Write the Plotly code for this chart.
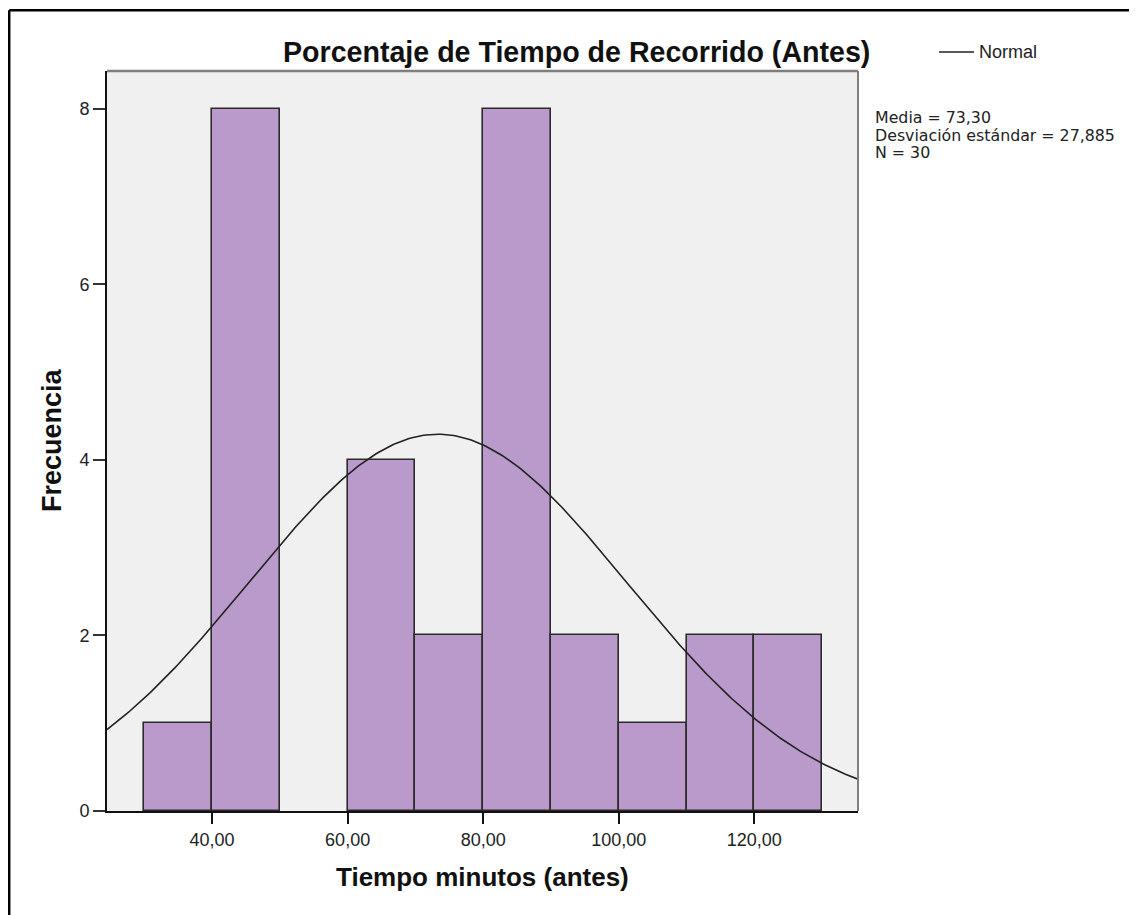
import numpy as np
import plotly.graph_objects as go

# ---- data ----
bin_starts = [30, 40, 50, 60, 70, 80, 90, 100, 110, 120]
counts = [1, 8, 0, 4, 2, 8, 2, 1, 2, 2]
bin_width = 10
media = 73.30
desv = 27.885
n_total = 30
x_tickvals = [40, 60, 80, 100, 120]
x_ticktext = ["40,00", "60,00", "80,00", "100,00", "120,00"]
y_tickvals = [0, 2, 4, 6, 8]
y_ticktext = ["0", "2", "4", "6", "8"]
title_text = "Porcentaje de Tiempo de Recorrido (Antes)"
x_title = "Tiempo minutos (antes)"
y_title = "Frecuencia"
stats_lines = ["Media = 73,30", "Desviación estándar = 27,885", "N = 30"]

X_RANGE = [24.5, 135.3]
Y_RANGE = [0, 8.43]

# page geometry (pixels); the html body has an 8px margin
OFF = 8
W, H = 1137 - OFF, 915 - OFF
L, R, T, B = 107, 858, 71, 811   # plot area in page pixels


def px(xp):
    return (xp - L) / (R - L)


def py(yp):
    return (B - yp) / (B - T)


centers = [s + bin_width / 2 for s in bin_starts]
outline_w = [1.6 if c > 0 else 0 for c in counts]

fig = go.Figure()
fig.add_trace(go.Bar(
    x=centers, y=counts, width=bin_width,
    marker=dict(color="#B99ACA", line=dict(color="#2b2b2b", width=outline_w)),
    showlegend=False, hoverinfo="x+y",
))

# fitted normal curve from the stated mean, sd and N
xc = np.linspace(X_RANGE[0], X_RANGE[1], 300)
yc = n_total * bin_width / (desv * np.sqrt(2 * np.pi)) * np.exp(-0.5 * ((xc - media) / desv) ** 2)
fig.add_trace(go.Scatter(x=xc, y=yc, mode="lines",
                         line=dict(color="#222222", width=1.6),
                         showlegend=False, hoverinfo="skip"))

fig.update_layout(
    width=W, height=H,
    margin=dict(l=L - OFF, r=1137 - R, t=T - OFF, b=915 - B, pad=0),
    paper_bgcolor="white", plot_bgcolor="#F0F0F0",
    bargap=0, showlegend=False,
    font=dict(family="Liberation Sans, Arial, sans-serif", color="#222222"),
)
fig.update_xaxes(
    range=X_RANGE, tickvals=x_tickvals, ticktext=x_ticktext,
    showgrid=False, zeroline=False, showline=True, linecolor="#111111", linewidth=2,
    ticks="outside", ticklen=11, tickwidth=2, tickcolor="#111111",
    tickfont=dict(size=18, color="#222222"),
)
fig.update_yaxes(
    range=Y_RANGE, tickvals=y_tickvals, ticktext=y_ticktext,
    showgrid=False, zeroline=False, showline=True, linecolor="#111111", linewidth=2,
    ticks="outside", ticklen=12, tickwidth=2, tickcolor="#333333",
    tickfont=dict(size=18, color="#222222"),
)

shapes = [
    # gray top/right frame of plot area
    dict(type="line", xref="paper", yref="paper", x0=0, x1=1, y0=1, y1=1,
         line=dict(color="#7f7f7f", width=2.5)),
    dict(type="line", xref="paper", yref="paper", x0=1, x1=1, y0=0, y1=1,
         line=dict(color="#7f7f7f", width=2)),
    # outer image frame (top and left)
    dict(type="line", xref="paper", yref="paper", x0=px(9.2), x1=px(1140), y0=py(10.3), y1=py(10.3),
         line=dict(color="#000000", width=2.5)),
    dict(type="line", xref="paper", yref="paper", x0=px(9.2), x1=px(9.2), y0=py(10.3), y1=py(920),
         line=dict(color="#000000", width=2.5)),
    # legend line sample
    dict(type="line", xref="paper", yref="paper", x0=px(939), x1=px(974), y0=py(52), y1=py(52),
         line=dict(color="#222222", width=1.6)),
]
fig.update_layout(shapes=shapes)

ann = [
    dict(text="<b>" + title_text + "</b>", x=px(576.5), y=py(52), xanchor="center", yanchor="middle",
         font=dict(size=28.6, color="#111111", family="Liberation Sans, Arial, sans-serif")),
    dict(text="<b>" + x_title + "</b>", x=px(482), y=py(877), xanchor="center", yanchor="middle",
         font=dict(size=26, color="#111111", family="Liberation Sans, Arial, sans-serif")),
    dict(text="<b>" + y_title + "</b>", x=px(52), y=py(440), xanchor="center", yanchor="middle",
         textangle=-90,
         font=dict(size=27, color="#111111", family="Liberation Sans, Arial, sans-serif")),
    dict(text="Normal", x=px(977), y=py(52), xanchor="left", yanchor="middle",
         font=dict(size=18, color="#222222", family="Liberation Sans, Arial, sans-serif")),
]
for line, yy in zip(stats_lines, [117, 135, 152.5]):
    ann.append(dict(text=line, x=px(873), y=py(yy), xanchor="left", yanchor="middle",
                    font=dict(size=15.8, color="#222222", family="DejaVu Sans, sans-serif")))
for a in ann:
    a.update(xref="paper", yref="paper", showarrow=False)
fig.update_layout(annotations=ann)

fig.write_html("out.html")
